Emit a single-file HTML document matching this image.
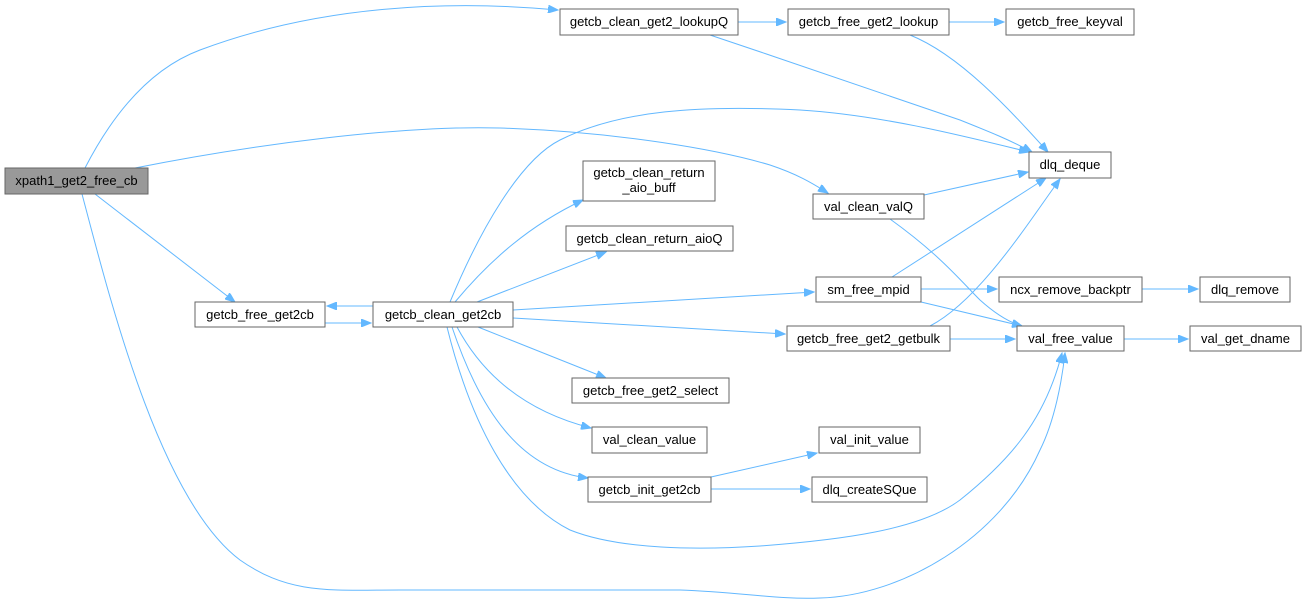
<!DOCTYPE html>
<html><head><meta charset="utf-8"><style>
html,body{margin:0;padding:0;background:#fff;}
svg{display:block;}
text{font-family:"Liberation Sans",Arial,sans-serif;font-size:13px;fill:#000;}
.e{fill:none;stroke:#63b8ff;stroke-width:1;}
.n{fill:#fff;stroke:#666;stroke-width:1;}
</style></head><body>
<svg width="1305" height="605" viewBox="0 0 1305 605" xmlns="http://www.w3.org/2000/svg">
<defs><marker id="a" markerWidth="11" markerHeight="8" refX="10" refY="4" orient="auto" markerUnits="userSpaceOnUse"><path d="M0,0 L10,4 L0,8 z" fill="#63b8ff" stroke="#63b8ff"/></marker></defs>
<g marker-end="url(#a)">
<path class="e" d="M85,168 C120,100 160,65 200,50 C320,5 450,0 558,10"/>
<path class="e" d="M135,168 C250,145 400,125 500,128 C620,132 720,150 770,165 C800,175 815,185 828,193"/>
<path class="e" d="M95,194 L235,302"/>
<path class="e" d="M82,194 C110,300 160,500 240,560 C290,595 330,590 400,590 L680,590 C740,592 780,600 820,598 C900,596 1000,540 1040,450 C1055,420 1062,380 1065,353"/>
<path class="e" d="M325,323 L371,323"/>
<path class="e" d="M373,306 L327,306"/>
<path class="e" d="M450,302 C480,230 520,160 560,140 C620,110 700,105 800,110 C880,115 960,135 1029,152"/>
<path class="e" d="M455,302 C490,260 530,225 583,200"/>
<path class="e" d="M477,302 L606,252"/>
<path class="e" d="M513,310 L814,292"/>
<path class="e" d="M513,318 L785,334"/>
<path class="e" d="M478,327 L606,378"/>
<path class="e" d="M457,327 C480,370 520,410 591,428"/>
<path class="e" d="M452,327 C480,410 520,470 588,478"/>
<path class="e" d="M447,327 C470,420 510,500 570,530 C620,550 700,550 760,546 C840,540 920,530 960,500 C1010,460 1045,420 1062,353"/>
<path class="e" d="M738,22 L786,22"/>
<path class="e" d="M949,22 L1004,22"/>
<path class="e" d="M710,35 C800,65 900,100 960,120 C990,132 1010,140 1032,152"/>
<path class="e" d="M910,35 C960,55 1010,110 1048,152"/>
<path class="e" d="M924,195 L1028,172"/>
<path class="e" d="M890,219 C940,255 960,280 980,300 C1000,318 1015,324 1022,326"/>
<path class="e" d="M892,277 L1046,178"/>
<path class="e" d="M921,289 L997,289"/>
<path class="e" d="M921,302 L1022,326"/>
<path class="e" d="M930,326 C980,300 1030,220 1060,179"/>
<path class="e" d="M950,339 L1015,339"/>
<path class="e" d="M1142,289 L1198,289"/>
<path class="e" d="M1124,339 L1188,339"/>
<path class="e" d="M711,477 L817,453"/>
<path class="e" d="M711,489 L810,489"/>
</g>
<rect x="5" y="168" width="143" height="26" fill="#999" stroke="#666"/>
<text x="76.5" y="185" text-anchor="middle">xpath1_get2_free_cb</text>
<g>
<rect class="n" x="560" y="9" width="178" height="26"/><text x="649" y="26" text-anchor="middle">getcb_clean_get2_lookupQ</text>
<rect class="n" x="788" y="9" width="161" height="26"/><text x="868.5" y="26" text-anchor="middle">getcb_free_get2_lookup</text>
<rect class="n" x="1006" y="9" width="128" height="26"/><text x="1070" y="26" text-anchor="middle">getcb_free_keyval</text>
<rect class="n" x="1029" y="152" width="82" height="26"/><text x="1070" y="169" text-anchor="middle">dlq_deque</text>
<rect class="n" x="583" y="161" width="132" height="40"/><text x="649" y="177" text-anchor="middle">getcb_clean_return</text><text x="649" y="192" text-anchor="middle">_aio_buff</text>
<rect class="n" x="813" y="194" width="111" height="25"/><text x="868.5" y="211" text-anchor="middle">val_clean_valQ</text>
<rect class="n" x="566" y="226" width="167" height="25"/><text x="649.5" y="243" text-anchor="middle">getcb_clean_return_aioQ</text>
<rect class="n" x="816" y="277" width="105" height="25"/><text x="868.5" y="294" text-anchor="middle">sm_free_mpid</text>
<rect class="n" x="999" y="277" width="143" height="25"/><text x="1070.5" y="294" text-anchor="middle">ncx_remove_backptr</text>
<rect class="n" x="1200" y="277" width="90" height="25"/><text x="1245" y="294" text-anchor="middle">dlq_remove</text>
<rect class="n" x="787" y="326" width="163" height="25"/><text x="868.5" y="343" text-anchor="middle">getcb_free_get2_getbulk</text>
<rect class="n" x="1017" y="326" width="107" height="25"/><text x="1070.5" y="343" text-anchor="middle">val_free_value</text>
<rect class="n" x="1190" y="326" width="111" height="25"/><text x="1245.5" y="343" text-anchor="middle">val_get_dname</text>
<rect class="n" x="195" y="302" width="130" height="25"/><text x="260" y="319" text-anchor="middle">getcb_free_get2cb</text>
<rect class="n" x="373" y="302" width="140" height="25"/><text x="443" y="319" text-anchor="middle">getcb_clean_get2cb</text>
<rect class="n" x="572" y="378" width="157" height="25"/><text x="650.5" y="395" text-anchor="middle">getcb_free_get2_select</text>
<rect class="n" x="592" y="427" width="115" height="26"/><text x="649.5" y="444" text-anchor="middle">val_clean_value</text>
<rect class="n" x="819" y="427" width="101" height="26"/><text x="869.5" y="444" text-anchor="middle">val_init_value</text>
<rect class="n" x="588" y="477" width="123" height="25"/><text x="649.5" y="494" text-anchor="middle">getcb_init_get2cb</text>
<rect class="n" x="812" y="477" width="115" height="25"/><text x="869.5" y="494" text-anchor="middle">dlq_createSQue</text>
</g>
</svg>
</body></html>
